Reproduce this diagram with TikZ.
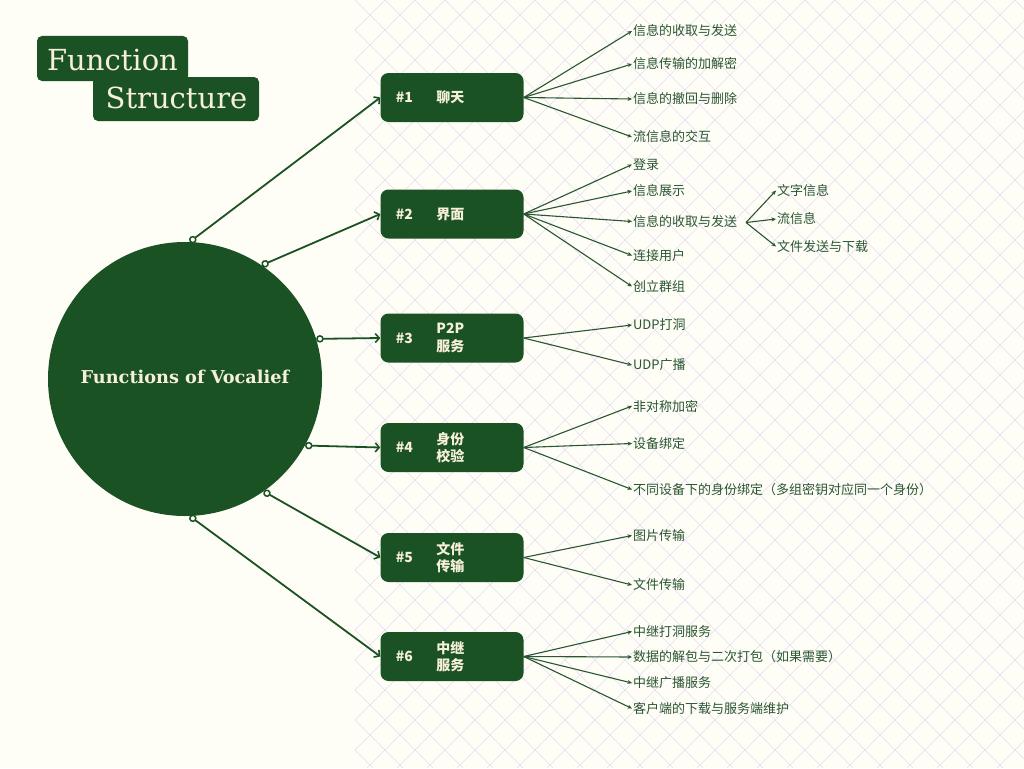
\documentclass[tikz,border=0pt]{standalone}
\usepackage{fontspec}
\newfontfamily\cjk{Noto Sans CJK SC}
\newfontfamily\titlefont{DejaVu Serif}
\usetikzlibrary{arrows.meta}
\definecolor{bg}{HTML}{FEFDF6}
\definecolor{dg}{HTML}{1B5224}
\definecolor{sg}{HTML}{2A5631}
\definecolor{cream}{HTML}{F6F0D8}
\definecolor{gridc}{HTML}{E2DEF4}
\begin{document}
\begin{tikzpicture}[x=1pt,y=-1pt,
  mainbox/.style={draw=none, fill=dg, rounded corners=8pt, minimum width=143pt, minimum height=49pt, inner sep=0pt},
  subtext/.style={anchor=west, inner sep=0.8pt, text=sg, font=\cjk\fontsize{13}{15}\selectfont},
  subarrow/.style={draw=sg, line width=1.1pt, -{Stealth[length=4.5pt,width=4pt]}},
  mainarrow/.style={draw=dg, line width=1.8pt, {Circle[open,fill=bg,length=7.5pt,width=7.5pt,line width=1.5pt]}-{Straight Barb[length=4pt,width=9pt,line width=1.6pt]}},
  boxtext/.style={text=cream, font=\cjk\bfseries\fontsize{14}{17.5}\selectfont, align=center, inner sep=0pt}
]
\useasboundingbox (0,0) rectangle (1024,768);
\fill[bg] (0,0) rectangle (1024,768);
% grid
\begin{scope}
\clip (355,0) rectangle (1024,768);
\foreach \i in {-26,...,23} { \draw[gridc, line width=0.6pt] ({355+30*\i},0) -- ++(768,768); }
\foreach \i in {0,...,48} { \draw[gridc, line width=0.6pt] ({355+30*\i},0) -- ++(-768,768); }
\end{scope}
% title
\fill[dg, rounded corners=5pt] (37,36) rectangle (188,81);
\fill[dg, rounded corners=5pt] (93,77) rectangle (259,121);
\node[font=\titlefont\fontsize{29}{29}\selectfont, text=cream, anchor=base, inner sep=0pt] (ttl1) at (112.5,70.7) {Function};
\node[font=\titlefont\fontsize{29}{29}\selectfont, text=cream, anchor=base, inner sep=0pt] (ttl2) at (176.5,108.3) {Structure};
% circle
\node[circle, fill=dg, minimum size=274pt, inner sep=0pt] (c) at (185,379) {};
\node[font=\titlefont\bfseries\fontsize{17.7}{20}\selectfont, text=cream, inner sep=0pt] (ctext) at (185,377) {Functions of Vocalief};
% boxes
\node[mainbox] (b1) at (452,97.5) {};
\node[mainbox] (b2) at (452,214) {};
\node[mainbox] (b3) at (452,338) {};
\node[mainbox] (b4) at (452,447.5) {};
\node[mainbox] (b5) at (452,557.5) {};
\node[mainbox] (b6) at (452,656.5) {};
\foreach \k in {1,...,6} { \node[boxtext] (n\k) at ([xshift=24pt]b\k.west) {\#\k}; }
\node[boxtext] (l1) at ([xshift=70pt]b1.west) {聊天};
\node[boxtext] (l2) at ([xshift=70pt]b2.west) {界面};
\node[boxtext] (l3) at ([xshift=70pt]b3.west) {P2P\\服务};
\node[boxtext] (l4) at ([xshift=70pt]b4.west) {身份\\校验};
\node[boxtext] (l5) at ([xshift=70pt]b5.west) {文件\\传输};
\node[boxtext] (l6) at ([xshift=70pt]b6.west) {中继\\服务};
% main connectors
\draw[mainarrow] (c.88.8) -- (b1.west);
\draw[mainarrow] (c.56.7) -- (b2.west);
\draw[mainarrow] (c.17.4) -- (b3.west);
\draw[mainarrow] (c.-29.3) -- (b4.west);
\draw[mainarrow] (c.-55.9) -- (b5.west);
\draw[mainarrow] (c.-88.8) -- (b6.west);
% sub items
\node[subtext] (s11) at (632,31) {信息的收取与发送};
\node[subtext] (s12) at (632,64) {信息传输的加解密};
\node[subtext] (s13) at (632,99) {信息的撤回与删除};
\node[subtext] (s14) at (632,137) {流信息的交互};
\node[subtext] (s21) at (632,164.5) {登录};
\node[subtext] (s22) at (632,191) {信息展示};
\node[subtext] (s23) at (632,221.5) {信息的收取与发送};
\node[subtext] (s24) at (632,255.5) {连接用户};
\node[subtext] (s25) at (632,286.5) {创立群组};
\node[subtext] (s31) at (632,325) {UDP打洞};
\node[subtext] (s32) at (632,365) {UDP广播};
\node[subtext] (s41) at (632,406) {非对称加密};
\node[subtext] (s42) at (632,443.5) {设备绑定};
\node[subtext] (s43) at (632,489.5) {不同设备下的身份绑定（多组密钥对应同一个身份）};
\node[subtext] (s51) at (632,535.5) {图片传输};
\node[subtext] (s52) at (632,585) {文件传输};
\node[subtext] (s61) at (632,631.5) {中继打洞服务};
\node[subtext] (s62) at (632,657) {数据的解包与二次打包（如果需要）};
\node[subtext] (s63) at (632,683) {中继广播服务};
\node[subtext] (s64) at (632,708.5) {客户端的下载与服务端维护};
\node[subtext] (u1) at (776,190.5) {文字信息};
\node[subtext] (u2) at (776,219) {流信息};
\node[subtext] (u3) at (776,246.5) {文件发送与下载};
\coordinate (s23e) at (746,222.5);
\foreach \s in {s11,s12,s13,s14} { \draw[subarrow] (b1.east) -- (\s.west); }
\foreach \s in {s21,s22,s23,s24,s25} { \draw[subarrow] (b2.east) -- (\s.west); }
\foreach \s in {s31,s32} { \draw[subarrow] (b3.east) -- (\s.west); }
\foreach \s in {s41,s42,s43} { \draw[subarrow] (b4.east) -- (\s.west); }
\foreach \s in {s51,s52} { \draw[subarrow] (b5.east) -- (\s.west); }
\foreach \s in {s61,s62,s63,s64} { \draw[subarrow] (b6.east) -- (\s.west); }
\foreach \s in {u1,u2,u3} { \draw[subarrow] (s23e) -- (\s.west); }
\end{tikzpicture}
\end{document}
